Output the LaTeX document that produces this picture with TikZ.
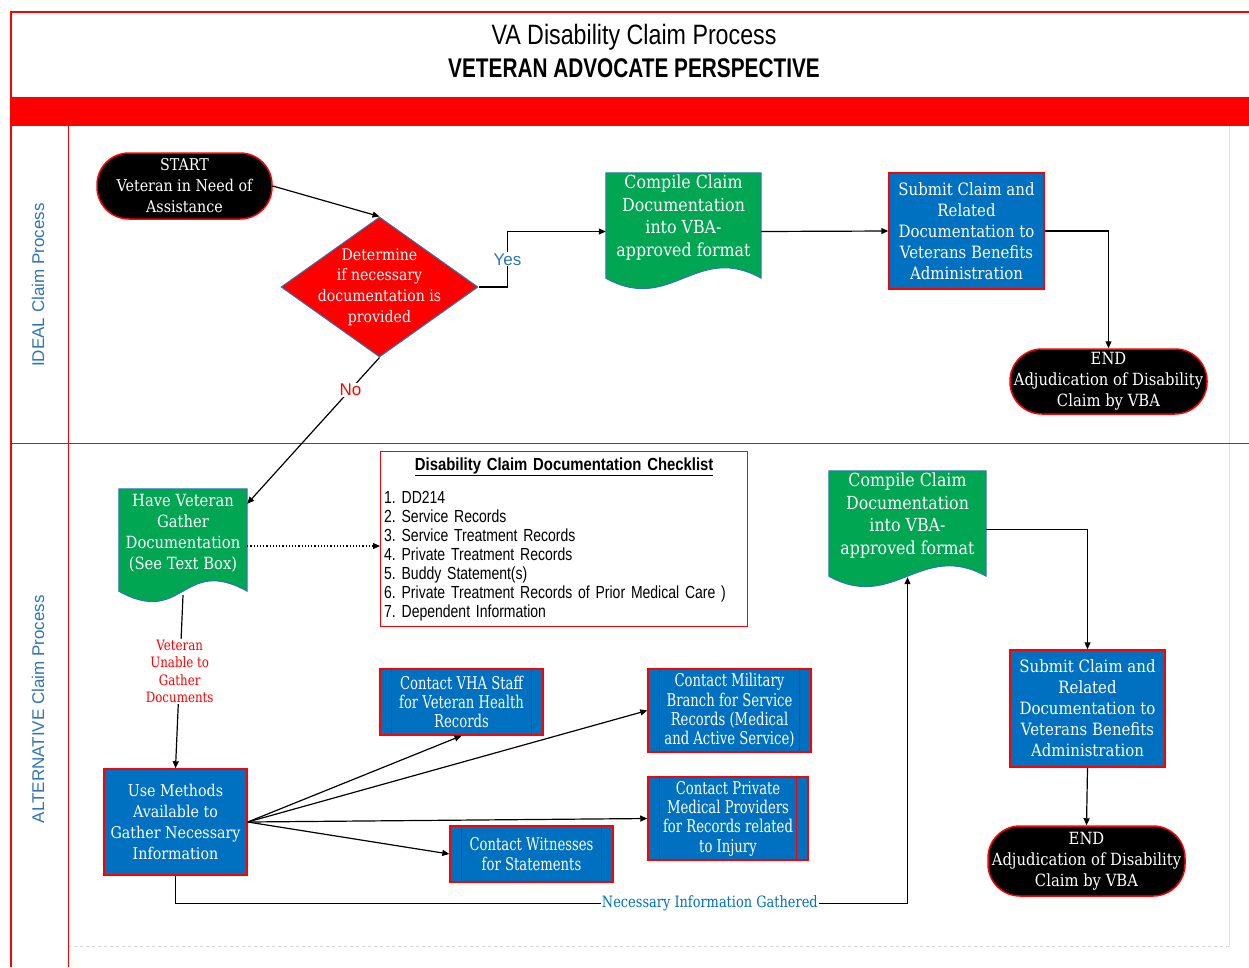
\documentclass[tikz,border=0pt]{standalone}
\usepackage{fontspec}
\setmainfont{DejaVu Serif}[FakeStretch=0.88]
\newfontfamily\narrowsans[FakeStretch=0.8]{Liberation Sans}
\newfontfamily\titlesans[FakeStretch=0.83]{Liberation Sans}
\newfontfamily\titlebold[FakeStretch=0.77]{Liberation Sans Bold}
\newfontfamily\checkbold[FakeStretch=0.85]{Liberation Sans Bold}
\newfontfamily\lanesans{Liberation Sans}
\newfontfamily\condserif[FakeStretch=0.83]{DejaVu Serif}
\newfontfamily\predserif[FakeStretch=0.75]{DejaVu Serif}
\usetikzlibrary{arrows.meta,shapes.geometric,calc}
\pgfdeclarelayer{bg}
\pgfsetlayers{bg,main}
\definecolor{boxblue}{HTML}{0070C0}
\definecolor{docgreen}{HTML}{00A651}
\definecolor{lanetext}{HTML}{2E75B6}
\definecolor{edgeblue}{HTML}{2E75B6}
\frenchspacing
\tikzset{
  conn/.style={line width=1.2pt, draw=black},
  arr/.style={conn, -{Triangle[length=7pt,width=6pt]}},
  txt/.style={text=white, font=\fontsize{17}{21}\selectfont, align=center, inner sep=0pt},
  term/.style={txt, fill=black, draw=red, line width=1.5pt, rounded corners=32pt, font=\fontsize{16.2}{21}\selectfont},
  procbox/.style={txt, fill=boxblue, draw=red, line width=1.5pt},
  predef/.style={procbox, font=\predserif\fontsize{17.6}{19.3}\selectfont},
  docnode/.style={inner sep=0pt},
  doctext/.style={txt, font=\fontsize{18}{22.5}\selectfont},
  docfill/.style={fill=docgreen, draw=edgeblue, line width=1pt},
  lanelabel/.style={rotate=90, text=lanetext, font=\lanesans\fontsize{17}{20}\selectfont},
  edgelabel/.style={fill=white, inner sep=1pt},
}
\begin{document}
\begin{tikzpicture}[x=1pt,y=-1pt]
\useasboundingbox (0,0) rectangle (1249,967);
\begin{pgfonlayer}{bg}
\fill[white] (0,0) rectangle (1249,967);
\end{pgfonlayer}

% frame and lanes
\draw[gray!25, line width=0.8pt] (1229,126) -- (1229,946);
\draw[gray!30, dashed, line width=0.8pt] (68,946) -- (1229,946);
\draw[red, line width=1.2pt] (1249,12) -- (11,12) -- (11,967);
\fill[red] (11,97) rectangle (1249,126);
\draw[red, line width=1pt] (68,126) -- (68,967);
\draw[red, line width=1pt] (11,443) -- (1249,443);

% title
\node[font=\titlesans\fontsize{28}{30}\selectfont] (t1) at (634,37) {VA Disability Claim Process};
\node[font=\titlebold\fontsize{27}{30}\selectfont] (t2) at (634,68) {VETERAN ADVOCATE PERSPECTIVE};

% lane labels
\node[lanelabel] (l1) at (38,285) {IDEAL Claim Process};
\node[lanelabel] (l2) at (38,709) {ALTERNATIVE Claim Process};

% ideal lane
\node[term, minimum width=175pt, minimum height=66pt] (s) at (184.5,186) {START\\Veteran in Need of\\Assistance};
\node[diamond, draw=edgeblue, fill=red, line width=1pt, minimum width=197pt, minimum height=140pt, inner sep=0pt,
      label={[txt, font=\fontsize{16}{20.7}\selectfont]center:{Determine\\if necessary\\documentation is\\provided}}] (d) at (379.5,287) {};
\node[docnode, minimum width=155pt, minimum height=117pt,
      label={[doctext, yshift=14pt]center:{Compile Claim\\Documentation\\into VBA-\\approved format}}] (c1) at (683.5,231.5) {};
\node[procbox, minimum width=155pt, minimum height=116pt] (s1) at (966.5,231) {Submit Claim and\\Related\\Documentation to\\Veterans Benefits\\Administration};
\node[term, minimum width=197pt, minimum height=65pt, font=\fontsize{16.8}{21}\selectfont] (e1) at (1108.5,381.5) {END\\Adjudication of Disability\\Claim by VBA};

% alternative lane
\node[docnode, minimum width=128pt, minimum height=114pt,
      label={[txt, font=\fontsize{16.8}{21}\selectfont, yshift=12.5pt]center:{Have Veteran\\Gather\\Documentation\\(See Text Box)}}] (hv) at (183,546) {};
\node[draw=red, line width=1.3pt, minimum width=367pt, minimum height=175pt, text width=360pt, align=left,
      inner sep=2pt, anchor=north west, font=\narrowsans\fontsize{17.5}{19}\selectfont] (cl) at (380,451)
  {\makebox[\linewidth][c]{\checkbold\underline{Disability Claim Documentation Checklist}}\\[14pt]
   1. DD214\\2. Service Records\\3. Service Treatment Records\\4. Private Treatment Records\\5. Buddy Statement(s)\\6. Private Treatment Records of Prior Medical Care )\\7. Dependent Information};
\node[procbox, minimum width=143pt, minimum height=106pt, font=\fontsize{16.2}{21}\selectfont] (um) at (175.5,822) {Use Methods\\Available to\\Gather Necessary\\Information};
\node[predef, minimum width=163pt, minimum height=66pt] (v) at (461.5,702) {Contact VHA Staff\\for Veteran Health\\Records};
\node[predef, minimum width=163pt, minimum height=83pt] (m) at (729.5,710.5) {Contact Military\\Branch for Service\\Records (Medical\\and Active Service)};
\node[predef, minimum width=160pt, minimum height=83pt] (p) at (728,818.5) {Contact Private\\Medical Providers\\for Records related\\to Injury};
\node[predef, minimum width=163pt, minimum height=56pt] (w) at (531.5,854) {Contact Witnesses\\for Statements};
\node[docnode, minimum width=157pt, minimum height=117pt,
      label={[doctext, yshift=14pt]center:{Compile Claim\\Documentation\\into VBA-\\approved format}}] (c2) at (907.5,529.5) {};
\node[procbox, minimum width=155pt, minimum height=117pt] (s2) at (1087.5,708.5) {Submit Claim and\\Related\\Documentation to\\Veterans Benefits\\Administration};
\node[term, minimum width=197pt, minimum height=70pt, font=\fontsize{16.8}{21}\selectfont] (e2) at (1086.5,861) {END\\Adjudication of Disability\\Claim by VBA};

% document shapes and inner lines
\begin{pgfonlayer}{bg}
  \foreach \n in {c1,c2,hv}{
    \path[docfill] (\n.north west) -- (\n.north east) -- ([yshift=12pt]\n.south east)
      .. controls +(-65,-36) and +(65,36) .. ([yshift=12pt]\n.south west) -- cycle;
  }
\end{pgfonlayer}
\foreach \n in {v,m,p,w}{
  \draw[red, line width=1.2pt] ([xshift=12pt]\n.north west) -- ([xshift=12pt]\n.south west);
  \draw[red, line width=1.2pt] ([xshift=-12pt]\n.north east) -- ([xshift=-12pt]\n.south east);
}

% connectors
\draw[arr] (s.east) -- (d.north);
\draw[arr] (d.east) -- ($(d.east)+(29,0)$) |- node[pos=0.25, edgelabel, text=lanetext, font=\lanesans\fontsize{17}{20}\selectfont] {Yes} (c1.west);
\draw[arr] (c1.east) -- (s1.west);
\draw[arr] (s1.east) -| (e1.north);
\draw[arr] (d.south) -- node[pos=0.22, edgelabel, text=red, font=\lanesans\fontsize{17}{20}\selectfont] {No} ([yshift=-15pt]hv.north east);
\draw[arr, dotted] (hv.east) -- (hv.east -| cl.west);
\draw[arr] ([yshift=8pt]hv.south) -- node[pos=0.44, edgelabel, text=red, align=center, font=\condserif\fontsize{14.3}{17.5}\selectfont] {Veteran\\Unable to\\Gather\\Documents} (um.north);
\draw[arr] (um.east) -- (v.south);
\draw[arr] (um.east) -- (m.west);
\draw[arr] (um.east) -- (p.west);
\draw[arr] (um.east) -- (w.west);
\draw[arr] (um.south) -- ($(um.south)+(0,28)$) -| node[pos=0.365, edgelabel, text=boxblue, font=\condserif\fontsize{15.6}{20}\selectfont] {Necessary Information Gathered} ([yshift=11pt]c2.south);
\draw[arr] (c2.east) -| (s2.north);
\draw[arr] (s2.south) -- (e2.north);
\end{tikzpicture}
\end{document}
